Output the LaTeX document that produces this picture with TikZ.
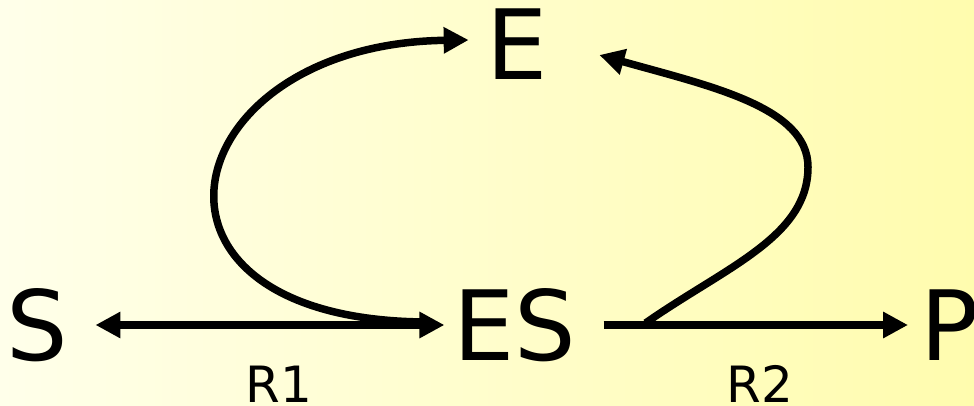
\documentclass[tikz,border=0pt]{standalone}
\usepackage{fontspec}
\setmainfont{DejaVu Sans}
\usetikzlibrary{arrows.meta,calc}
\definecolor{bgleft}{HTML}{FFFFEA}
\definecolor{bgright}{HTML}{FFFCAE}
\begin{document}
\begin{tikzpicture}[x=1pt,y=-1pt,
  big/.style={inner sep=0pt,anchor=base,font=\fontsize{97}{97}\selectfont},
  small/.style={inner sep=0pt,anchor=base,font=\fontsize{50}{50}\selectfont},
  conn/.style={line width=7.5pt,draw=black},
  tip/.style={-{Triangle[length=25pt,width=25pt]}},
  tips/.style={{Triangle[length=25pt,width=25pt]}-{Triangle[length=25pt,width=25pt]}}]
\shade[left color=bgleft,right color=bgright] (0,0) rectangle (974,406);
\useasboundingbox (0,0) rectangle (974,406);
\node[big] (E) at (517.5,80) {E};
\node[big] (S) at (37.5,360) {S};
\node[big] (ES) at (515,360) {ES};
\node[big,anchor=base west] (P) at (920.5,360) {P};
\node[small] (R1) at (279,402) {R1};
\node[small] (R2) at (760,402) {R2};
\coordinate (K) at (808,167);
\draw[conn,tips] ($(S.base east)+(27,-35)$) -- ($(ES.base west)+(-9,-35)$);
\draw[conn,tip] ($(ES.base east)+(27,-35)$) -- ($(P.base west)+(-12.5,-35)$);
\draw[conn,tip] ($(ES.base west)+(-24,-38)$) .. controls +(-320,0) and +(-297,4) .. ($(E.base west)+(-18,-40)$);
\draw[conn,tip] ($(ES.base east)+(69,-37)$) .. controls +(80,-56) and +(0,70) .. (K)
  .. controls +(0,-60) and +(110,31) .. ($(E.base east)+(51,-25)$);
\end{tikzpicture}
\end{document}
